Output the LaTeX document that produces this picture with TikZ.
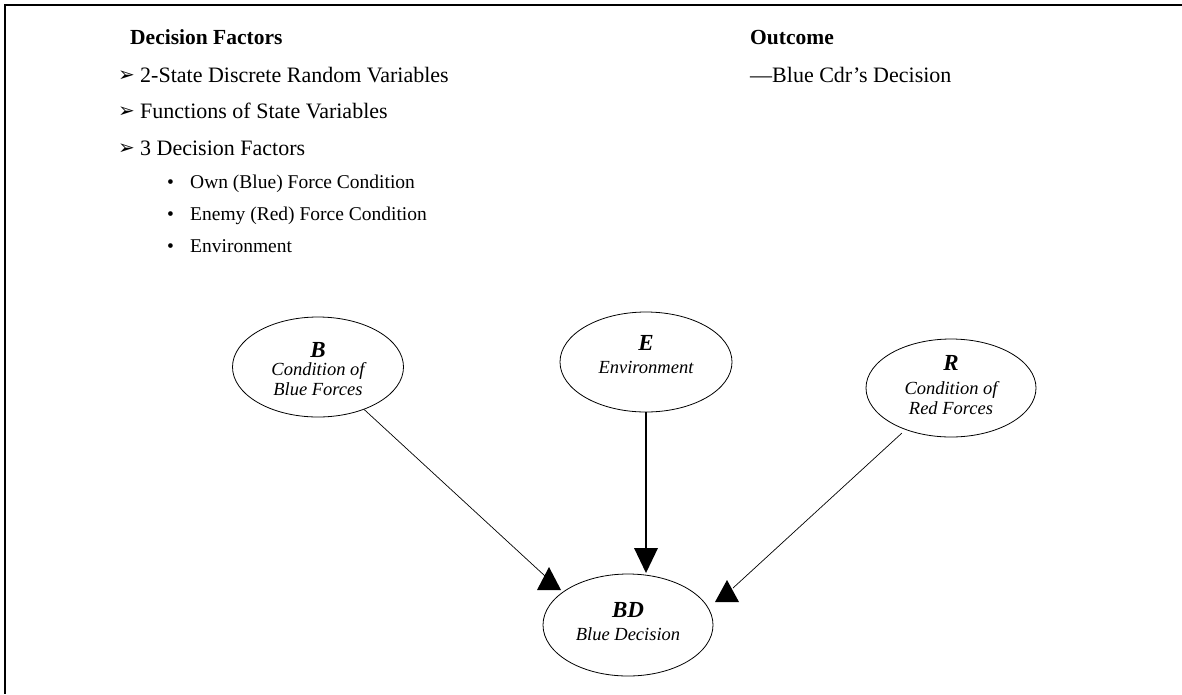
\documentclass[tikz,border=0pt]{standalone}
\usepackage{fontspec}
\setmainfont{Liberation Serif}
\newfontfamily\dingfont{DejaVu Sans}
\usetikzlibrary{shapes.geometric}
\begin{document}
\begin{tikzpicture}[x=1pt,y=-1pt,
  head/.style={font=\fontsize{21.5}{24}\selectfont\bfseries, anchor=base west, inner sep=0pt},
  item/.style={font=\fontsize{22}{26}\selectfont, anchor=base west, inner sep=0pt},
  subitem/.style={font=\fontsize{19.5}{23}\selectfont, anchor=base west, inner sep=0pt},
  arrbullet/.style={font=\dingfont\fontsize{20}{24}\selectfont, anchor=base west, inner sep=0pt},
  dotbullet/.style={font=\fontsize{19.5}{23}\selectfont, anchor=base west, inner sep=0pt},
  var/.style={draw, ellipse, line width=0.8pt, minimum width=171pt, minimum height=100pt, inner sep=0pt},
  varsym/.style={font=\fontsize{23}{26}\selectfont\bfseries\itshape, anchor=base, inner sep=0pt},
  vartxt/.style={font=\fontsize{18.5}{21}\selectfont\itshape, anchor=base, inner sep=0pt},
  link/.style={line width=0.7pt},
  tip/.style={fill=black}
]
\useasboundingbox (0,0) rectangle (1182,694);

% frame edges
\draw[line width=1.3pt] (5,693.5) -- (5,5) -- (1182,5);

% decision factors list
\node[head] (hdf) at (130,44) {Decision Factors};
\node[arrbullet] (a1) at (118,81) {➢};
\node[item] (i1) at (140,82) {2-State Discrete Random Variables};
\node[arrbullet] (a2) at (118,117) {➢};
\node[item] (i2) at (140,118) {Functions of State Variables};
\node[arrbullet] (a3) at (118,154) {➢};
\node[item] (i3) at (140,155) {3 Decision Factors};
\node[dotbullet] (b1) at (167,188) {•};
\node[subitem] (s1) at (190,188) {Own (Blue) Force Condition};
\node[dotbullet] (b2) at (167,220) {•};
\node[subitem] (s2) at (190,220) {Enemy (Red) Force Condition};
\node[dotbullet] (b3) at (167,252) {•};
\node[subitem] (s3) at (190,252) {Environment};

% outcome
\node[head] (hout) at (750,44) {Outcome};
\node[item] (o1) at (750,82) {—Blue Cdr’s Decision};

% network nodes
\node[var] (B) at (318,367) {};
\node[varsym] (Bs) at (318,357) {B};
\node[vartxt] (Bt1) at (318,375) {Condition of};
\node[vartxt] (Bt2) at (318,395) {Blue Forces};

\node[var, minimum width=172pt] (E) at (646,362) {};
\node[varsym] (Es) at (646,350) {E};
\node[vartxt] (Et1) at (646,373) {Environment};

\node[var, minimum width=170pt, minimum height=98pt] (R) at (951,388) {};
\node[varsym] (Rs) at (951,370) {R};
\node[vartxt] (Rt1) at (951,394) {Condition of};
\node[vartxt] (Rt2) at (951,414) {Red Forces};

\node[var, minimum width=170pt, minimum height=102pt] (BD) at (628,625) {};
\node[varsym] (BDs) at (628,617) {BD};
\node[vartxt] (BDt1) at (628,640) {Blue Decision};

% arrowheads
\coordinate (tB) at (549,567);
\coordinate (tE) at (646,573);
\coordinate (tR) at (727,580);
\fill[tip] (tB) -- ++(-12,23) -- ++(24,0) -- cycle;
\fill[tip] (tE) -- ++(-12,-25) -- ++(24,0) -- cycle;
\fill[tip] (tR) -- ++(-12,22) -- ++(24,0) -- cycle;

% connector ends
\coordinate (eB) at (545,576);
\coordinate (eE) at (646,550);
\coordinate (eR) at (733,588);

\draw[link] (B) -- (eB);
\draw[link, line width=1.6pt] (E) -- (eE);
\draw[link, shorten <=5pt] (R) -- (eR);
\end{tikzpicture}
\end{document}
